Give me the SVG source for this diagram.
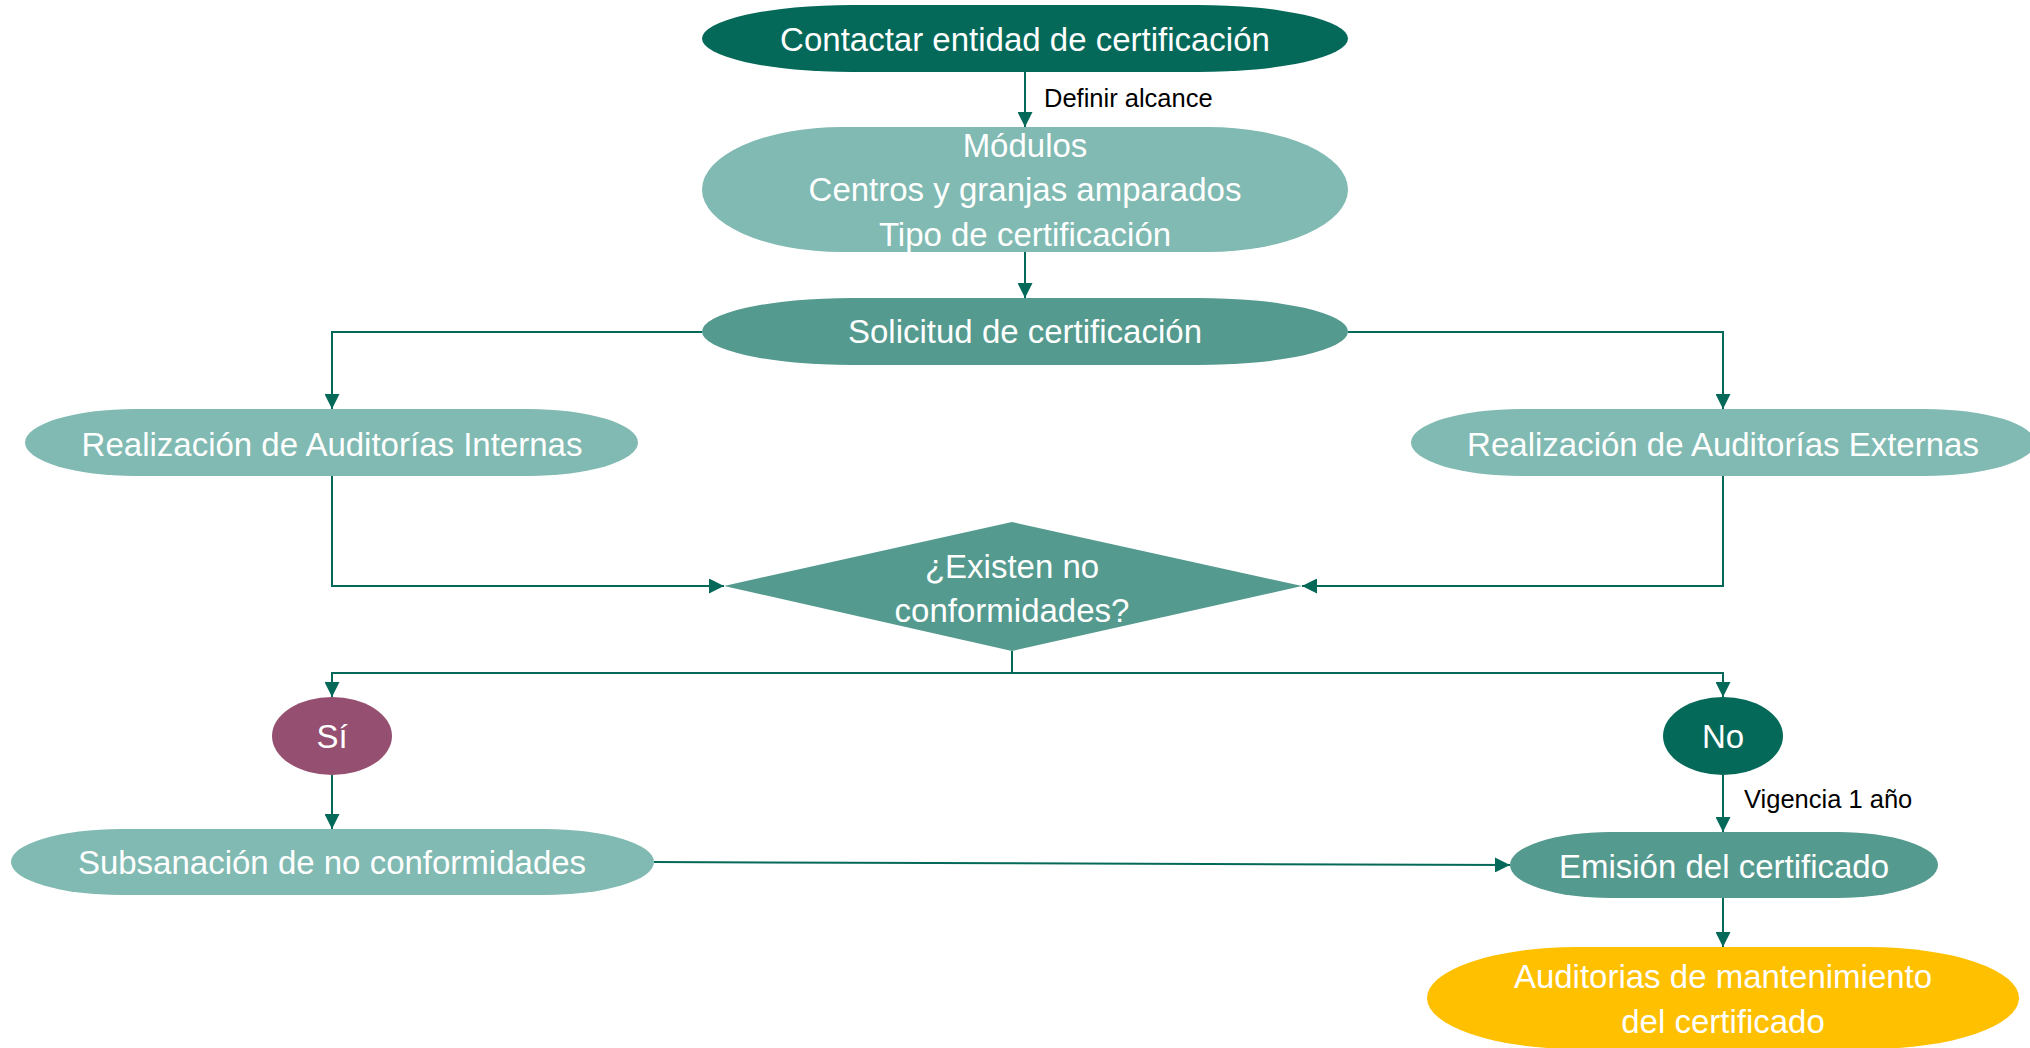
<svg xmlns="http://www.w3.org/2000/svg" width="2030" height="1048" viewBox="0 0 2030 1048">
<style>
.t{font-family:"Liberation Sans",Arial,sans-serif;font-size:33px;fill:#ffffff;text-anchor:middle}
.lbl{font-family:"Liberation Sans",Arial,sans-serif;font-size:25.5px;fill:#000000}
.dark{fill:#05695A}
.mid{fill:#549A8E}
.light{fill:#80BAB2}
.c{fill:none;stroke:#05695A;stroke-width:2}
</style>
<defs>
<marker id="ah" markerUnits="userSpaceOnUse" markerWidth="15" markerHeight="15" refX="15" refY="7.5" orient="auto" viewBox="0 0 15 15">
<path d="M0,0 L15,7.5 L0,15 z" fill="#05695A"/>
</marker>
</defs>
<rect width="2030" height="1048" fill="#ffffff"/>
<g id="connectors">
<path class="c" d="M1025,72 V127" marker-end="url(#ah)"/>
<path class="c" d="M1025,252 V298" marker-end="url(#ah)"/>
<path class="c" d="M702,332 H332 V409" marker-end="url(#ah)"/>
<path class="c" d="M1348,332 H1723 V409" marker-end="url(#ah)"/>
<path class="c" d="M332,476 V586 H724" marker-end="url(#ah)"/>
<path class="c" d="M1723,476 V586 H1302" marker-end="url(#ah)"/>
<path class="c" d="M1012,651 V673 H332 V697" marker-end="url(#ah)"/>
<path class="c" d="M1012,673 H1723 V697" marker-end="url(#ah)"/>
<path class="c" d="M332,775 V829" marker-end="url(#ah)"/>
<path class="c" d="M1723,775 V832" marker-end="url(#ah)"/>
<path class="c" d="M654,862 L1510,865" marker-end="url(#ah)"/>
<path class="c" d="M1723,898 V947" marker-end="url(#ah)"/>
<text class="lbl" x="1044" y="107">Definir alcance</text>
<text class="lbl" x="1744" y="808">Vigencia 1 año</text>
</g>
<g id="contactar">
<rect class="dark" x="702" y="5" width="646" height="67" rx="150" ry="33.5"/>
<text class="t" x="1025" y="51">Contactar entidad de certificación</text>
</g>
<g id="modulos">
<rect class="light" x="702" y="127" width="646" height="125" rx="140" ry="62.5"/>
<text class="t" x="1025" y="157">Módulos</text>
<text class="t" x="1025" y="201">Centros y granjas amparados</text>
<text class="t" x="1025" y="246">Tipo de certificación</text>
</g>
<g id="solicitud">
<rect class="mid" x="702" y="298" width="646" height="67" rx="150" ry="33.5"/>
<text class="t" x="1025" y="343">Solicitud de certificación</text>
</g>
<g id="internas">
<rect class="light" x="25" y="409" width="613" height="67" rx="110" ry="33.5"/>
<text class="t" x="332" y="456">Realización de Auditorías Internas</text>
</g>
<g id="externas">
<rect class="light" x="1411" y="409" width="624" height="67" rx="110" ry="33.5"/>
<text class="t" x="1723" y="456">Realización de Auditorías Externas</text>
</g>
<g id="decision">
<polygon class="mid" points="724,586 1012,522 1302,586 1012,651"/>
<text class="t" x="1012" y="578">¿Existen no</text>
<text class="t" x="1012" y="622">conformidades?</text>
</g>
<g id="si">
<ellipse cx="332" cy="736" rx="60" ry="39" fill="#944F71"/>
<text class="t" x="332" y="748">Sí</text>
</g>
<g id="no">
<ellipse class="dark" cx="1723" cy="736" rx="60" ry="39"/>
<text class="t" x="1723" y="748">No</text>
</g>
<g id="subsanacion">
<rect class="light" x="11" y="829" width="643" height="66" rx="110" ry="33"/>
<text class="t" x="332" y="874">Subsanación de no conformidades</text>
</g>
<g id="emision">
<rect class="mid" x="1510" y="832" width="428" height="66" rx="100" ry="33"/>
<text class="t" x="1724" y="878">Emisión del certificado</text>
</g>
<g id="auditorias">
<rect x="1427" y="947" width="592" height="102" rx="150" ry="51" fill="#FFC000"/>
<text class="t" x="1723" y="988">Auditorias de mantenimiento</text>
<text class="t" x="1723" y="1033">del certificado</text>
</g>
</svg>
